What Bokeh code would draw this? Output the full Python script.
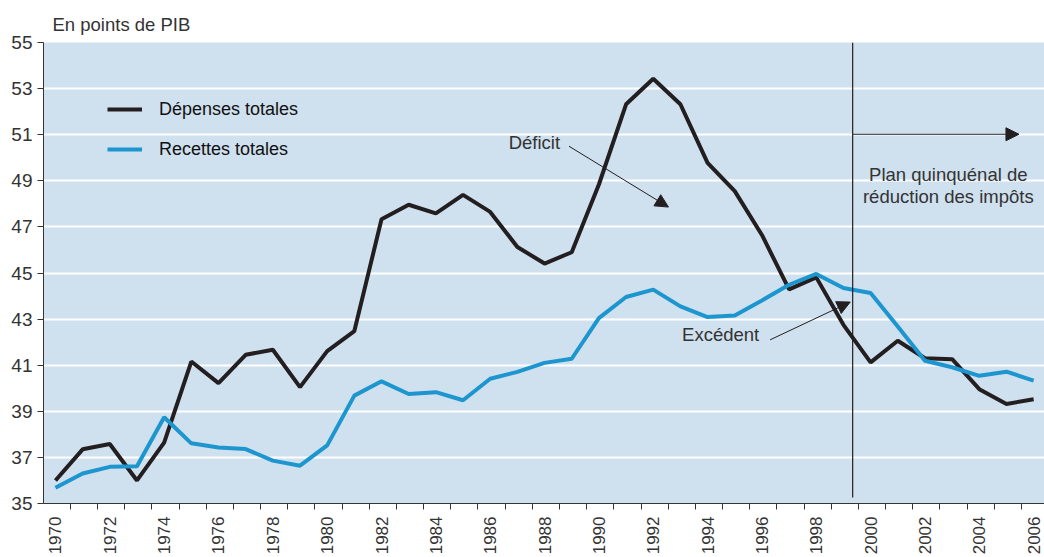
from math import pi
from bokeh.plotting import figure
from bokeh.models import (Range1d, FixedTicker, Legend, LegendItem, Label, Arrow,
                          NormalHead, ColumnDataSource)
from bokeh.embed import file_html
from bokeh.resources import INLINE

# ---- data ----
years = list(range(1970, 2007))
depenses = [36.0, 37.35, 37.58, 36.0, 37.64, 41.16, 40.22, 41.45, 41.67, 40.05,
            41.61, 42.48, 47.33, 47.96, 47.59, 48.39, 47.65, 46.13, 45.41, 45.90,
            48.84, 52.32, 53.43, 52.32, 49.78, 48.55, 46.65, 44.29, 44.81, 42.75,
            41.12, 42.06, 41.30, 41.26, 39.96, 39.32, 39.52]
recettes = [35.68, 36.30, 36.59, 36.62, 38.74, 37.61, 37.43, 37.36, 36.86, 36.64,
            37.52, 39.68, 40.30, 39.75, 39.83, 39.48, 40.41, 40.71, 41.10, 41.28,
            43.04, 43.96, 44.28, 43.55, 43.09, 43.16, 43.81, 44.49, 44.96, 44.35,
            44.13, 42.68, 41.19, 40.91, 40.54, 40.72, 40.33]
y_ticks = list(range(35, 56, 2))
x_label_years = list(range(1970, 2007, 2))
series_names = ["Dépenses totales", "Recettes totales"]

FONT = "Liberation Sans"
TXT = "#333333"
BLACK = "#231f20"
BLUE = "#1d96cf"

src = ColumnDataSource(dict(year=years, dep=depenses, rec=recettes))

p = figure(width=1044, height=557, output_backend="svg", toolbar_location=None,
           x_range=Range1d(1969.56, 2006.4), y_range=Range1d(35, 55),
           min_border_left=43, min_border_right=0, min_border_top=42, min_border_bottom=0)
p.background_fill_color = "#cfe0ef"
p.border_fill_color = "white"
p.outline_line_color = None

# title
p.title.text = "En points de PIB"
p.title.text_font = FONT
p.title.text_font_size = "18.5px"
p.title.text_font_style = "normal"
p.title.text_color = TXT
p.title.align = "left"
p.title.offset = 9
p.title.standoff = 16

# grid
p.xgrid.grid_line_color = None
p.ygrid.ticker = FixedTicker(ticks=y_ticks)
p.ygrid.grid_line_color = "white"
p.ygrid.grid_line_width = 2

# y axis
p.yaxis.ticker = FixedTicker(ticks=y_ticks)
p.yaxis.major_tick_out = 6
p.yaxis.major_tick_in = 0
p.yaxis.minor_tick_line_color = None
p.yaxis.major_label_text_font = FONT
p.yaxis.major_label_text_font_size = "19px"
p.yaxis.major_label_text_color = TXT
p.yaxis.major_label_standoff = 5
p.yaxis.axis_line_color = "#333333"
p.yaxis.major_tick_line_color = "#333333"

# x axis
minor = [y - 0.45 for y in years] + [years[-1] + 0.55]
p.xaxis.ticker = FixedTicker(ticks=x_label_years, minor_ticks=minor)
p.xaxis.major_tick_out = 0
p.xaxis.major_tick_in = 0
p.xaxis.minor_tick_out = 6
p.xaxis.minor_tick_in = 0
p.xaxis.minor_tick_line_color = "#333333"
p.xaxis.axis_line_color = "#333333"
p.xaxis.major_label_orientation = pi / 2
p.xaxis.major_label_text_font = FONT
p.xaxis.major_label_text_font_size = "17px"
p.xaxis.major_label_text_color = TXT
p.xaxis.major_label_standoff = 7

# lines
r_dep = p.line("year", "dep", source=src, line_color=BLACK, line_width=4)
r_rec = p.line("year", "rec", source=src, line_color=BLUE, line_width=4)

# vertical marker & annotations
p.segment(x0=[1999.34], y0=[35.26], x1=[1999.34], y1=[55], line_color="#231f20", line_width=1.2)

head = dict(size=13, fill_color=BLACK, line_color=BLACK)
p.add_layout(Arrow(end=NormalHead(**head), x_start=1999.34, y_start=51.02,
                   x_end=2005.46, y_end=51.02, line_color=BLACK, line_width=1.2))
p.add_layout(Arrow(end=NormalHead(**head), x_start=1988.90, y_start=50.50,
                   x_end=1992.56, y_end=47.86, line_color=BLACK, line_width=1))
p.add_layout(Arrow(end=NormalHead(**head), x_start=1996.30, y_start=42.10,
                   x_end=1999.25, y_end=43.74, line_color=BLACK, line_width=1))

lab = dict(text_font=FONT, text_font_size="18.5px", text_color=TXT, text_baseline="middle")
p.add_layout(Label(x=1988.57, y=50.67, text="Déficit", text_align="right", **lab))
p.add_layout(Label(x=1995.90, y=42.32, text="Excédent", text_align="right", **lab))
p.add_layout(Label(x=2002.86, y=49.29, text="Plan quinquénal de", text_align="center", **lab))
p.add_layout(Label(x=2002.86, y=48.33, text="réduction des impôts", text_align="center", **lab))

legend = Legend(items=[LegendItem(label=series_names[0], renderers=[r_dep]),
                       LegendItem(label=series_names[1], renderers=[r_rec])],
                location=(64, 343), orientation="vertical")
legend.background_fill_alpha = 0
legend.border_line_alpha = 0
legend.margin = 0
legend.padding = 0
legend.glyph_width = 35
legend.glyph_height = 22
legend.label_height = 22
legend.spacing = 18
legend.label_standoff = 17
legend.label_text_font = FONT
legend.label_text_font_size = "18px"
legend.label_text_color = "#111111"
p.add_layout(legend)

open("out.html", "w").write(file_html(p, INLINE))
